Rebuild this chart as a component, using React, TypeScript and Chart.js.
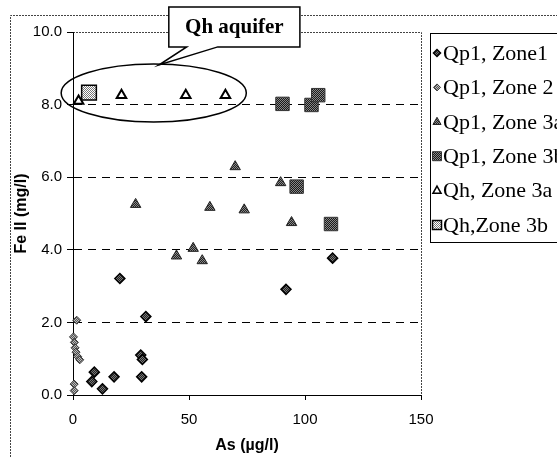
import React, { useEffect, useRef } from 'react';
import { Chart, registerables } from 'chart.js';

Chart.register(...registerables);

// ---------- data ----------
const seriesNames = ['Qp1, Zone1', 'Qp1, Zone 2', 'Qp1, Zone 3a', 'Qp1, Zone 3b', 'Qh, Zone 3a', 'Qh,Zone 3b'];

const qp1Zone1: [number, number][] = [
  [8.1, 0.37], [9.2, 0.63], [12.7, 0.17], [17.7, 0.5], [20.2, 3.21], [29.2, 1.1],
  [29.9, 0.98], [29.6, 0.5], [31.4, 2.16], [91.8, 2.91], [111.9, 3.77],
];
const qp1Zone2: [number, number][] = [
  [0.2, 1.6], [0.6, 1.45], [0.9, 1.3], [1.3, 1.18], [2.0, 1.06], [2.9, 0.97],
  [1.6, 2.06], [0.5, 0.3], [0.5, 0.12],
];
const qp1Zone3a: [number, number][] = [
  [27, 5.25], [44.6, 3.83], [51.8, 4.04], [55.7, 3.7], [59, 5.17], [69.9, 6.29],
  [73.8, 5.1], [89.5, 5.85], [94.2, 4.75],
];
const qp1Zone3b: [number, number][] = [
  [90.3, 8.02], [96.4, 5.74], [102.8, 7.99], [105.7, 8.26], [111.2, 4.71],
];
const qhZone3a: [number, number][] = [
  [2.4, 8.1], [20.9, 8.26], [48.6, 8.26], [65.7, 8.26],
];
const qhZone3b: [number, number][] = [
  [6.9, 8.33],
];

const xMin = 0, xMax = 150, xStep = 50;
const yMin = 0, yMax = 10, yStep = 2;
const xTitle = 'As (µg/l)';
const yTitle = 'Fe II (mg/l)';
const calloutText = 'Qh aquifer';

// annotation in data units
const ellipseCenter = [34.8, 8.32];
const ellipseRadii = [39.9, 0.8];
const calloutBox = { x1: 41.3, x2: 97.8, y1: 10.69, y2: 9.59 };
const calloutTip = [37.0, 9.09];
const calloutBase = [49.0, 62.4];

function speckle(a: string, b: string) {
  const c = document.createElement('canvas');
  c.width = 2; c.height = 2;
  const g = c.getContext('2d')!;
  g.fillStyle = a; g.fillRect(0, 0, 2, 2);
  g.fillStyle = b; g.fillRect(0, 0, 1, 1); g.fillRect(1, 1, 1, 1);
  return g.createPattern(c, 'repeat')!;
}

const SANS = '"Liberation Sans", Arial, sans-serif';
const SERIF = '"Liberation Serif", "Times New Roman", serif';

export default function App() {
  const ref = useRef<HTMLCanvasElement>(null);

  useEffect(() => {
    const canvas = ref.current!;
    const styles = [
      { shape: 'rectRot', r: 5, fill: speckle('#222', '#777'), stroke: '#000', bw: 1.5 },
      { shape: 'rectRot', r: 4, fill: speckle('#555', '#bbb'), stroke: '#333', bw: 1 },
      { shape: 'triangle', r: 6, fill: speckle('#222', '#888'), stroke: '#222', bw: 1 },
      { shape: 'rect', r: 9.5, fill: speckle('#1a1a1a', '#888'), stroke: '#333', bw: 1 },
      { shape: 'triangle', r: 5.5, fill: '#fff', stroke: '#000', bw: 2 },
      { shape: 'rect', r: 10.4, fill: speckle('#fff', '#777'), stroke: '#000', bw: 1.5 },
    ];
    const series = [qp1Zone1, qp1Zone2, qp1Zone3a, qp1Zone3b, qhZone3a, qhZone3b];

    const decor = {
      id: 'decor',
      beforeDraw(chart: any) {
        const { ctx, chartArea: ca } = chart;
        ctx.save();
        ctx.fillStyle = '#fff';
        ctx.fillRect(0, 0, chart.width, chart.height);
        ctx.strokeStyle = '#444';
        ctx.lineWidth = 1;
        ctx.setLineDash([2, 1]);
        ctx.beginPath();
        ctx.moveTo(10.5, chart.height);
        ctx.lineTo(10.5, 15.5);
        ctx.lineTo(chart.width, 15.5);
        ctx.stroke();
        ctx.beginPath();
        ctx.moveTo(ca.left, Math.round(ca.top) + 0.5);
        ctx.lineTo(Math.round(ca.right) + 0.5, Math.round(ca.top) + 0.5);
        ctx.lineTo(Math.round(ca.right) + 0.5, ca.bottom);
        ctx.stroke();
        ctx.restore();
      },
      afterDraw(chart: any) {
        const { ctx } = chart;
        const xs = chart.scales.x, ys = chart.scales.y;
        const px = (v: number) => xs.getPixelForValue(v);
        const py = (v: number) => ys.getPixelForValue(v);
        ctx.save();
        // ellipse
        const cx = px(ellipseCenter[0]), cy = py(ellipseCenter[1]);
        const rx = px(ellipseCenter[0] + ellipseRadii[0]) - cx;
        const ry = cy - py(ellipseCenter[1] + ellipseRadii[1]);
        ctx.strokeStyle = '#000';
        ctx.lineWidth = 1.5;
        ctx.beginPath();
        ctx.ellipse(cx, cy, rx, ry, 0, 0, Math.PI * 2);
        ctx.stroke();
        // callout
        const bx1 = px(calloutBox.x1), bx2 = px(calloutBox.x2);
        const by1 = py(calloutBox.y1), by2 = py(calloutBox.y2);
        ctx.beginPath();
        ctx.moveTo(bx1, by1);
        ctx.lineTo(bx2, by1);
        ctx.lineTo(bx2, by2);
        ctx.lineTo(px(calloutBase[1]), by2);
        ctx.lineTo(px(calloutTip[0]), py(calloutTip[1]));
        ctx.lineTo(px(calloutBase[0]), by2);
        ctx.lineTo(bx1, by2);
        ctx.closePath();
        ctx.fillStyle = '#fff';
        ctx.fill();
        ctx.lineWidth = 1.5;
        ctx.stroke();
        ctx.fillStyle = '#000';
        ctx.font = 'bold 21px ' + SERIF;
        ctx.textAlign = 'center';
        ctx.textBaseline = 'middle';
        ctx.fillText(calloutText, (bx1 + bx2) / 2, (by1 + by2) / 2 + 1);
        // legend
        const lx = 430.5, ly = 33.5;
        ctx.lineWidth = 1;
        ctx.strokeStyle = '#000';
        ctx.strokeRect(lx, ly, 200, 209);
        ctx.font = '22px ' + SERIF;
        ctx.textAlign = 'left';
        seriesNames.forEach((name, i) => {
          const y = 53 + i * 34.4;
          const s = styles[i];
          const mx = 437;
          ctx.beginPath();
          const r = s.shape === 'rect' ? 4.5 : s.shape === 'triangle' ? 4.5 : 3.5;
          if (s.shape === 'rectRot') {
            ctx.moveTo(mx - r, y); ctx.lineTo(mx, y - r); ctx.lineTo(mx + r, y); ctx.lineTo(mx, y + r);
          } else if (s.shape === 'triangle') {
            ctx.moveTo(mx, y - r); ctx.lineTo(mx + r * 0.9, y + r * 0.6); ctx.lineTo(mx - r * 0.9, y + r * 0.6);
          } else {
            ctx.rect(mx - r, y - r, 2 * r, 2 * r);
          }
          ctx.closePath();
          ctx.fillStyle = s.fill;
          ctx.fill();
          ctx.lineWidth = Math.min(s.bw, 1.5);
          ctx.strokeStyle = s.stroke;
          ctx.stroke();
          ctx.fillStyle = '#000';
          ctx.fillText(name, 443, y + 1);
        });
        ctx.restore();
      },
    };

    const chart = new Chart(canvas, {
      type: 'scatter',
      data: {
        datasets: series.map((pts, i) => ({
          label: seriesNames[i],
          data: pts.map(([x, y]) => ({ x, y })),
          pointStyle: styles[i].shape as any,
          pointRadius: styles[i].r,
          pointBackgroundColor: styles[i].fill as any,
          pointBorderColor: styles[i].stroke,
          pointBorderWidth: styles[i].bw,
          showLine: false,
          clip: false as any,
          order: 6 - i,
        })),
      },
      options: {
        responsive: false,
        animation: false,
        devicePixelRatio: 1,
        events: [],
        layout: { padding: { left: 10, top: 32, right: 136, bottom: 0 } },
        plugins: { legend: { display: false }, tooltip: { enabled: false } },
        scales: {
          x: {
            type: 'linear',
            min: xMin, max: xMax,
            afterFit: (s: any) => { s.height = 62; },
            ticks: { stepSize: xStep, color: '#000', font: { family: SANS, size: 15 }, padding: 11, maxRotation: 0 },
            grid: { drawOnChartArea: false, drawTicks: true, tickLength: 5, tickColor: '#000' },
            border: { display: true, color: '#000', width: 1 },
            title: { display: true, text: xTitle, color: '#000', font: { family: SANS, size: 16, weight: 'bold' }, padding: { top: 0, bottom: 2 } },
          },
          y: {
            type: 'linear',
            min: yMin, max: yMax,
            afterFit: (s: any) => { s.width = 63; },
            ticks: { stepSize: yStep, color: '#000', font: { family: SANS, size: 15 }, padding: 5, callback: (v: any) => Number(v).toFixed(1) },
            grid: {
              color: (c: any) => (c.tick && (c.tick.value === yMin || c.tick.value === yMax) ? 'rgba(0,0,0,0)' : '#000'),
              lineWidth: 1,
              tickLength: 6,
              tickColor: '#000',
              tickBorderDash: [],
            },
            border: { display: true, color: '#000', width: 1, dash: [8, 6] },
            title: { display: true, text: yTitle, color: '#000', font: { family: SANS, size: 16, weight: 'bold' }, padding: { top: 2, bottom: 0 } },
          },
        },
      } as any,
      plugins: [decor],
    });
    return () => chart.destroy();
  }, []);

  return (
    <div style={{ position: 'absolute', left: 0, top: 0, width: 557, height: 457, background: '#fff', overflow: 'hidden' }}>
      <canvas ref={ref} width={557} height={457} style={{ display: 'block', width: 557, height: 457 }} />
    </div>
  );
}
